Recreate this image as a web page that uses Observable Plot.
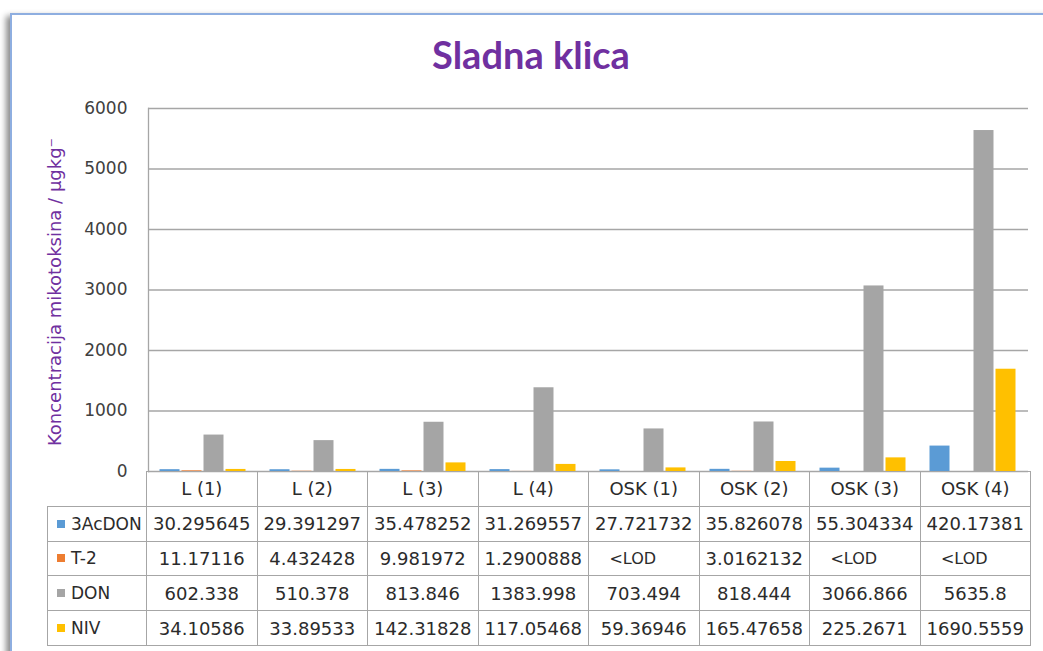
<!DOCTYPE html>
<html>
<head>
<meta charset="utf-8">
<script src="https://cdn.jsdelivr.net/npm/d3@7"></script>
<script src="https://cdn.jsdelivr.net/npm/@observablehq/plot@0.6"></script>
<style>
  html, body { margin: 0; padding: 0; background: #fff; }
  #root { position: relative; width: 1043px; height: 651px; overflow: hidden; font-family: "DejaVu Sans", sans-serif; }
  #frame { position: absolute; left: 10px; top: 13px; width: 1100px; height: 700px; border-left: 2px solid #8eaee0; border-top: 2px solid #8eaee0; box-shadow: -4px 3px 6px rgba(0,0,0,0.45); background: #fff; }
  #title { position: absolute; left: 0; width: 1062px; top: 31px; text-align: center; font-family: Lato, sans-serif; font-weight: 700; font-size: 38px; color: #7030A0; }
  #ylabel { position: absolute; left: 54px; top: 292px; transform: translate(-50%, -50%) rotate(-90deg); white-space: nowrap; font-size: 18px; color: #7030A0; }
  #chart { position: absolute; left: 0; top: 0; }
  #tbl { position: absolute; left: 47px; top: 471px; border-collapse: collapse; table-layout: fixed; font-size: 18px; color: #2b2b2b; }
  #tbl td { border: 1px solid #a6a6a6; height: 33.8px; padding: 0; text-align: center; white-space: nowrap; overflow: hidden; }
  #tbl td.blank { border-left: none; border-top: none; }
  #tbl td.leg { text-align: left; padding-left: 9px; font-size: 17px; }
  #tbl td.lod { font-size: 16px; padding-right: 22px; }
  .key { display: inline-block; width: 8px; height: 8px; margin-right: 6px; vertical-align: 2px; }
</style>
</head>
<body>
<div id="root">
  <div id="frame"></div>
  <div id="title"></div>
  <div id="ylabel"></div>
  <div id="chart"></div>
  <table id="tbl"></table>
</div>
<script>
// ---- data ----
const titleText = "Sladna klica";
const yLabel = "Koncentracija mikotoksina / µgkg⁻";
const categories = ["L (1)", "L (2)", "L (3)", "L (4)", "OSK (1)", "OSK (2)", "OSK (3)", "OSK (4)"];
const seriesNames = ["3AcDON", "T-2", "DON", "NIV"];
const seriesColors = ["#5B9BD5", "#ED7D31", "#A5A5A5", "#FFC000"];
const ac3DON = [30.295645, 29.391297, 35.478252, 31.269557, 27.721732, 35.826078, 55.304334, 420.17381];
const t2 = [11.17116, 4.432428, 9.981972, 1.2900888, null, 3.0162132, null, null];
const don = [602.338, 510.378, 813.846, 1383.998, 703.494, 818.444, 3066.866, 5635.8];
const niv = [34.10586, 33.89533, 142.31828, 117.05468, 59.36946, 165.47658, 225.2671, 1690.5559];
const yTicks = [0, 1000, 2000, 3000, 4000, 5000, 6000];
const lodText = "<LOD";

// ---- build ----
const seriesValues = [ac3DON, t2, don, niv];
const rows = [];
seriesNames.forEach((s, si) => {
  categories.forEach((c, ci) => {
    rows.push({cat: c, series: s, value: seriesValues[si][ci]});
  });
});

document.getElementById("title").textContent = titleText;
document.getElementById("ylabel").textContent = yLabel;

const chart = Plot.plot({
  width: 1043,
  height: 473,
  marginLeft: 146,
  marginRight: 13,
  marginTop: 108,
  marginBottom: 2,
  style: {fontFamily: "DejaVu Sans, sans-serif", background: "transparent", overflow: "visible"},
  fx: {domain: categories, padding: 0, axis: null, label: null},
  x: {domain: seriesNames, paddingInner: 0.04, paddingOuter: 0.49, axis: null},
  y: {domain: [0, 6000], axis: null},
  color: {domain: seriesNames, range: seriesColors},
  marks: [
    Plot.gridY(yTicks, {stroke: "#a6a6a6", strokeOpacity: 1, strokeWidth: 1.3}),
    Plot.frame({anchor: "left", stroke: "#a6a6a6", strokeWidth: 1.3, facetAnchor: "left"}),
    Plot.barY(rows.filter(d => d.value != null), {fx: "cat", x: "series", y: "value", fill: "series", insetLeft: 0.5, insetRight: 0.5}),
    Plot.axisY(yTicks, {tickSize: 0, tickPadding: 21, fontSize: 17, fill: "#404040", label: null, tickFormat: d => String(d)})
  ]
});
document.getElementById("chart").appendChild(chart);

// ---- data table ----
const tbl = document.getElementById("tbl");
const colgroup = document.createElement("colgroup");
const c0 = document.createElement("col"); c0.style.width = "99px"; colgroup.appendChild(c0);
categories.forEach(() => { const c = document.createElement("col"); c.style.width = "110.5px"; colgroup.appendChild(c); });
tbl.appendChild(colgroup);
const head = document.createElement("tr");
const blank = document.createElement("td"); blank.className = "blank"; head.appendChild(blank);
categories.forEach(c => { const td = document.createElement("td"); td.textContent = c; head.appendChild(td); });
tbl.appendChild(head);
seriesNames.forEach((s, si) => {
  const tr = document.createElement("tr");
  const lg = document.createElement("td"); lg.className = "leg";
  const key = document.createElement("span"); key.className = "key"; key.style.background = seriesColors[si];
  lg.appendChild(key); lg.appendChild(document.createTextNode(s));
  tr.appendChild(lg);
  seriesValues[si].forEach(v => {
    const td = document.createElement("td");
    if (v == null) { td.textContent = lodText; td.className = "lod"; }
    else td.textContent = String(v);
    tr.appendChild(td);
  });
  tbl.appendChild(tr);
});
</script>
</body>
</html>
